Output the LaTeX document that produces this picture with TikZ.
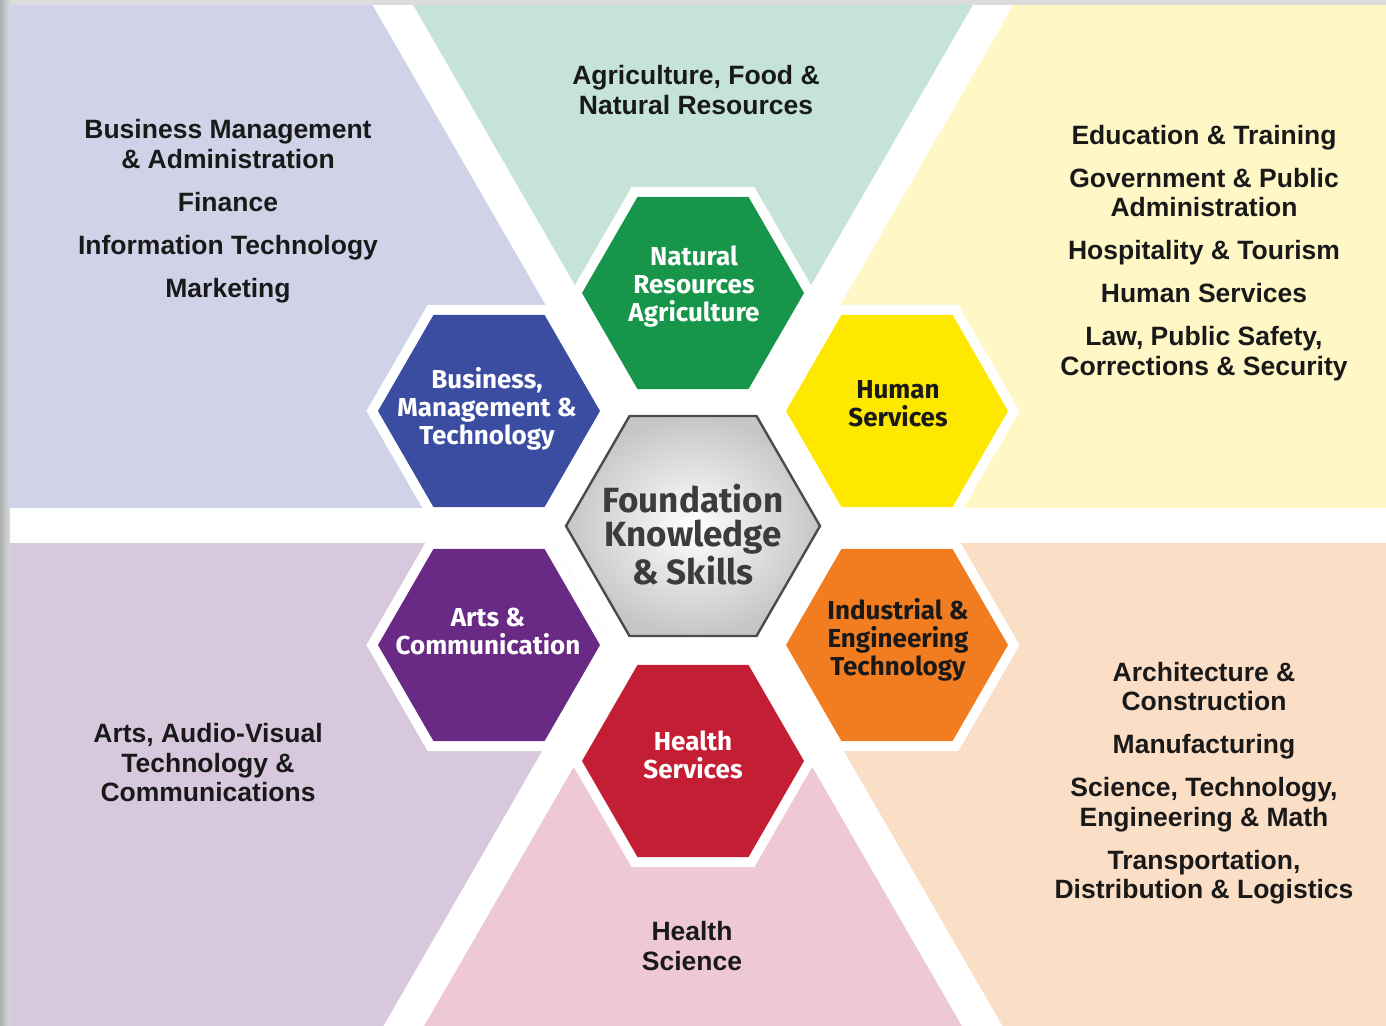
\documentclass[tikz,border=0pt]{standalone}
\usepackage{fontspec}
\setmainfont{Liberation Sans}
\newfontfamily\hexfont{Fira Sans}
\usetikzlibrary{shapes.geometric}
\definecolor{bglav}{RGB}{208,211,232}
\definecolor{bgmint}{RGB}{197,227,214}
\definecolor{bgyel}{RGB}{255,248,198}
\definecolor{bgpur}{RGB}{216,200,222}
\definecolor{bgpink}{RGB}{238,200,210}
\definecolor{bgpeach}{RGB}{250,222,197}
\definecolor{hgreen}{RGB}{23,150,75}
\definecolor{hblue}{RGB}{58,77,160}
\definecolor{hyellow}{RGB}{255,232,0}
\definecolor{hpurple}{RGB}{104,42,132}
\definecolor{horange}{RGB}{242,125,32}
\definecolor{hred}{RGB}{196,30,52}
\definecolor{txtdark}{RGB}{25,25,25}
\definecolor{fgray}{RGB}{60,60,60}
\definecolor{cgray}{RGB}{75,75,75}
\definecolor{stripgray}{RGB}{190,195,195}
\definecolor{topgray}{RGB}{220,220,220}
\begin{document}
\begin{tikzpicture}[x=0.5pt,y=-0.5pt,
  hexshape/.style={regular polygon, regular polygon sides=6,
    minimum size=111pt, inner sep=0pt, outer sep=0pt,
    preaction={draw=white, line width=10pt}},
  centerhex/.style={regular polygon, regular polygon sides=6,
    minimum size=127pt, inner sep=0pt, outer sep=0pt, draw=cgray, line width=1.2pt,
    shading=radial, inner color=white, outer color=gray!45},
  whitehex/.style={regular polygon, regular polygon sides=6,
    minimum size=150pt, inner sep=0pt, outer sep=0pt, fill=white},
  hexlbl/.style={font=\hexfont\bfseries\fontsize{13pt}{14pt}\selectfont, align=center, inner sep=0pt},
  sidetxt/.style={font=\bfseries\fontsize{13.25pt}{14.75pt}\selectfont, align=center, text=txtdark, inner sep=0pt},
  band/.style={draw=white, line width=17.5pt}
]
\useasboundingbox (0,0) rectangle (1386,1025);
\fill[white] (0,0) rectangle (1386,1025);
\begin{scope}
  \clip (10,5) rectangle (1386,1025);
  \coordinate (C) at (693,525);
  \coordinate (d0) at (1993,525);
  \coordinate (d60) at (1343,-601);
  \coordinate (d120) at (43,-601);
  \coordinate (d180) at (-607,525);
  \coordinate (d240) at (43,1651);
  \coordinate (d300) at (1343,1651);
  \fill[bgyel] (C) -- (d0) -- (d60) -- cycle;
  \fill[bgmint] (C) -- (d60) -- (d120) -- cycle;
  \fill[bglav] (C) -- (d120) -- (d180) -- cycle;
  \fill[bgpur] (C) -- (d180) -- (d240) -- cycle;
  \fill[bgpink] (C) -- (d240) -- (d300) -- cycle;
  \fill[bgpeach] (C) -- (d300) -- (d0) -- cycle;
  \draw[band] (d180) -- (d0);
  \draw[band] (d120) -- (d300);
  \draw[band] (d60) -- (d240);
\end{scope}
\shade[left color=stripgray!90!black, right color=stripgray!60] (0,0) rectangle (10,1025);
\fill[topgray] (10,0) rectangle (1386,5);

% white ground round the centre
\node[whitehex] (wc) at (693,526) {};

% hexagons
\node[hexshape, fill=hgreen] (nat) at (693,293) {};
\node[hexshape, fill=hblue] (bus) at (489,411) {};
\node[hexshape, fill=hyellow] (hum) at (897,411) {};
\node[hexshape, fill=hpurple] (art) at (489,645) {};
\node[hexshape, fill=horange] (ind) at (897,645) {};
\node[hexshape, fill=hred] (hea) at (693,761) {};
\node[centerhex] (fks) at (693,526) {};

% hexagon labels
\node[hexlbl, text=white] (natl) at (694,287) {Natural\\Resources\\Agriculture};
\node[hexlbl, text=white] (busl) at (487,409) {Business,\\Management \&\\Technology};
\node[hexlbl, text=txtdark] (huml) at (898,404) {Human\\Services};
\node[hexlbl, text=white] (artl) at (488,631) {Arts \&\\Communication};
\node[hexlbl, text=txtdark] (indl) at (898,640) {Industrial \&\\Engineering\\Technology};
\node[hexlbl, text=white] (heal) at (693,755) {Health\\Services};
\node[hexlbl, text=fgray, font=\hexfont\bfseries\fontsize{17.5pt}{17pt}\selectfont] (fksl) at (693,535) {Foundation\\Knowledge\\\& Skills};

% side texts
\node[sidetxt] (tl) at (228,211) {Business Management\\\& Administration\\[6.75pt]Finance\\[6.75pt]Information Technology\\[6.75pt]Marketing};
\node[sidetxt] (tm) at (696,90) {Agriculture, Food \&\\Natural Resources};
\node[sidetxt] (tr) at (1204,253) {Education \& Training\\[6.75pt]Government \& Public\\Administration\\[6.75pt]Hospitality \& Tourism\\[6.75pt]Human Services\\[6.75pt]Law, Public Safety,\\Corrections \& Security};
\node[sidetxt] (bl) at (208,763) {Arts, Audio-Visual\\Technology \&\\Communications};
\node[sidetxt] (br) at (1204,783) {Architecture \&\\Construction\\[6.75pt]Manufacturing\\[6.75pt]Science, Technology,\\Engineering \& Math\\[6.75pt]Transportation,\\Distribution \& Logistics};
\node[sidetxt] (bm) at (692,946) {Health\\Science};
\end{tikzpicture}
\end{document}
